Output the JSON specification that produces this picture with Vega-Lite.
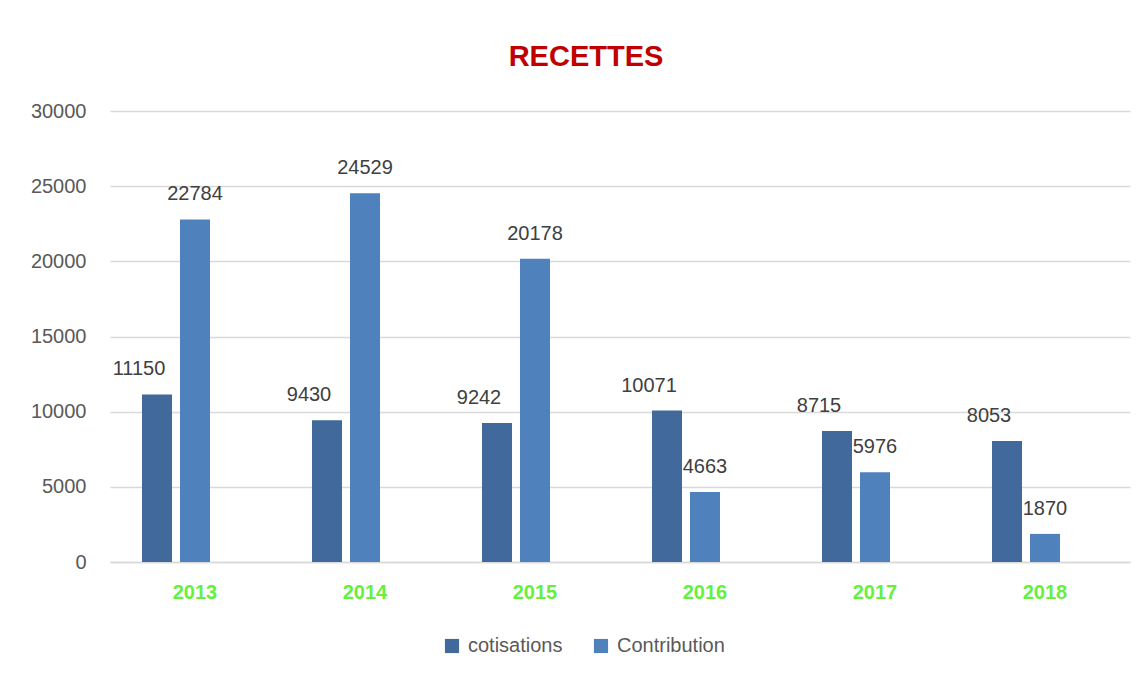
{
  "$schema": "https://vega.github.io/schema/vega-lite/v6.json",
  "width": 1020,
  "height": 451,
  "autosize": {"type": "none"},
  "padding": {"left": 110, "top": 111, "right": 16, "bottom": 116},
  "background": "white",
  "title": {
    "text": "RECETTES",
    "color": "#C00000",
    "font": "Liberation Sans",
    "fontSize": 29,
    "fontWeight": "bold",
    "anchor": "middle",
    "dx": -34,
    "offset": 29
  },
  "data": {
    "values": [
      {"year": "2013", "serie": "cotisations", "value": 11150},
      {"year": "2013", "serie": "Contribution", "value": 22784},
      {"year": "2014", "serie": "cotisations", "value": 9430},
      {"year": "2014", "serie": "Contribution", "value": 24529},
      {"year": "2015", "serie": "cotisations", "value": 9242},
      {"year": "2015", "serie": "Contribution", "value": 20178},
      {"year": "2016", "serie": "cotisations", "value": 10071},
      {"year": "2016", "serie": "Contribution", "value": 4663},
      {"year": "2017", "serie": "cotisations", "value": 8715},
      {"year": "2017", "serie": "Contribution", "value": 5976},
      {"year": "2018", "serie": "cotisations", "value": 8053},
      {"year": "2018", "serie": "Contribution", "value": 1870}
    ]
  },
  "encoding": {
    "x": {
      "field": "year",
      "type": "nominal",
      "scale": {"paddingInner": 0, "paddingOuter": 0},
      "axis": {
        "title": null,
        "labelAngle": 0,
        "labelColor": "#66F03C",
        "labelFont": "Liberation Sans",
        "labelFontSize": 20,
        "labelFontWeight": "bold",
        "labelPadding": 20,
        "ticks": false,
        "domain": true,
        "domainColor": "#D9D9D9",
        "domainWidth": 1.5
      }
    },
    "xOffset": {
      "field": "serie",
      "type": "nominal",
      "scale": {"domain": ["cotisations", "Contribution", "_"], "paddingInner": 0.21, "paddingOuter": 0.842}
    },
    "y": {
      "field": "value",
      "type": "quantitative",
      "scale": {"domain": [0, 30000], "nice": false},
      "axis": {
        "title": null,
        "values": [0, 5000, 10000, 15000, 20000, 25000, 30000],
        "format": "d",
        "labelColor": "#595959",
        "labelFont": "Liberation Sans",
        "labelFontSize": 20,
        "labelPadding": 24,
        "ticks": false,
        "domain": false,
        "gridColor": "#D9D9D9",
        "gridWidth": 1.5
      }
    }
  },
  "layer": [
    {
      "mark": {"type": "bar"},
      "encoding": {
        "color": {
          "field": "serie",
          "type": "nominal",
          "scale": {"domain": ["cotisations", "Contribution"], "range": ["#41699C", "#4F81BD"]},
          "legend": {
            "title": null,
            "orient": "none",
            "legendX": 332,
            "legendY": 525,
            "direction": "horizontal",
            "symbolType": "square",
            "symbolSize": 200,
            "symbolStrokeWidth": 0,
            "labelFont": "Liberation Sans",
            "labelFontSize": 20,
            "labelColor": "#595959",
            "columnPadding": 28,
            "labelOffset": 6
          }
        }
      }
    },
    {
      "transform": [{"filter": "datum.serie == 'cotisations'"}],
      "mark": {"type": "text", "baseline": "middle", "dy": -25, "dx": -18, "font": "Liberation Sans", "fontSize": 20, "color": "#404040"},
      "encoding": {"text": {"field": "value", "type": "quantitative", "format": "d"}}
    },
    {
      "transform": [{"filter": "datum.serie == 'Contribution'"}],
      "mark": {"type": "text", "baseline": "middle", "dy": -25, "font": "Liberation Sans", "fontSize": 20, "color": "#404040"},
      "encoding": {"text": {"field": "value", "type": "quantitative", "format": "d"}}
    }
  ],
  "config": {"view": {"stroke": null}}
}
